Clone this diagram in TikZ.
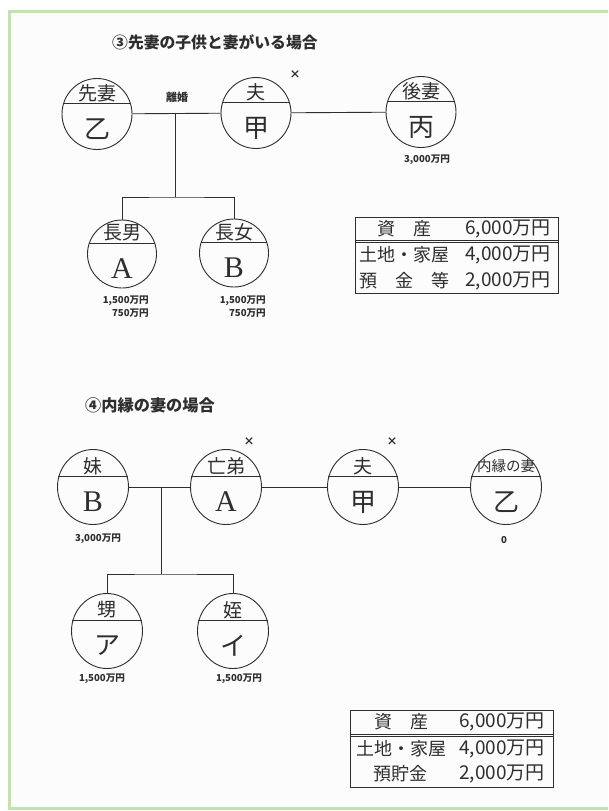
\documentclass[tikz,border=0pt]{standalone}
\usepackage{fontspec}
\newfontfamily\jp{Noto Sans CJK JP}
\newfontfamily\lser{Liberation Serif}
\usetikzlibrary{shapes.geometric,calc}
\definecolor{framegreen}{HTML}{C5E0B3}
\definecolor{ink}{HTML}{2E2E2E}
\definecolor{paper}{HTML}{FCFCFC}
\newcommand\famnode[7]{% name, position, size style, top text, top style, bottom text, bottom style
  \node[person,#3] (#1) at (#2) {};
  \draw[line] (#1.17) -- (#1.163);
  \node[#5] at ($(#1.center)+(0,-21)$) {#4};
  \node[#7] at ($(#1.center)+(0,15)$) {#6};
}
\begin{document}
\begin{tikzpicture}[x=1pt,y=-1pt,
  line/.style={draw=ink, line width=0.9pt},
  person/.style={ellipse, draw=ink, line width=0.9pt, inner sep=0pt},
  rowa/.style={minimum width=70pt, minimum height=71pt},
  rowb/.style={minimum width=69pt, minimum height=68pt},
  rowc/.style={minimum width=71pt, minimum height=75pt},
  toplab/.style={font=\jp\fontsize{19}{19}\selectfont, text=ink, inner sep=0pt},
  smalltop/.style={font=\jp\fontsize{14.5}{14.5}\selectfont, text=ink, inner sep=0pt},
  botlab/.style={font=\jp\fontsize{26}{26}\selectfont, text=ink, inner sep=0pt},
  latlab/.style={font=\lser\fontsize{30}{30}\selectfont, text=ink, inner sep=0pt},
  amount/.style={font=\jp\bfseries\fontsize{9.6}{10}\selectfont, text=ink, inner sep=0pt},
  title/.style={font=\jp\bfseries\fontsize{15.8}{16}\selectfont, text=ink, inner sep=0pt, anchor=west},
  cross/.style={font=\jp\bfseries\fontsize{11}{11}\selectfont, text=ink, inner sep=0pt},
  tablebox/.style={draw=ink, line width=0.9pt, inner sep=0pt},
  cell/.style={font=\jp\fontsize{18}{18}\selectfont, text=ink, inner sep=0pt},
  numcell/.style={font=\jp\fontsize{19}{19}\selectfont, text=ink, inner sep=0pt, anchor=east}
]
\clip (0,0) rectangle (608,811);
\fill[white] (0,0) rectangle (608,811);
\fill[paper] (9.5,11.5) rectangle (620,808);
\draw[framegreen, line width=3pt] (620,11.5) -- (9.5,11.5) -- (9.5,808) -- (620,808);

% ---------- Section 3 ----------
\node[title] (t3) at (112,42) {③先妻の子供と妻がいる場合};

\famnode{senzai}{97,114}{rowa}{先妻}{toplab}{乙}{botlab}
\famnode{otto}{256,113}{rowa}{夫}{toplab}{甲}{botlab}
\famnode{gosai}{421,112}{rowa}{後妻}{toplab}{丙}{botlab}
\famnode{chonan}{122,254}{rowb}{長男}{toplab}{A}{latlab}
\famnode{chojo}{234,253}{rowb}{長女}{toplab}{B}{latlab}

\draw[line] (senzai) -- (otto);
\draw[line] (otto) -- (gosai);
\coordinate (m3) at (175,113.5);
\coordinate (j3) at (175,197);
\draw[line] (m3) -- (j3);
\draw[line] (chonan.north) |- (j3) -| (chojo.north);

\node[font=\jp\bfseries\fontsize{11}{11}\selectfont, text=ink, inner sep=0pt] (rikon) at (177,97) {離婚};
\node[cross] (x1) at (295,75) {×};
\node[amount] (g-amt) at (427,160) {3,000万円};
\node[amount, anchor=east] (a-amt1) at (149,301) {1,500万円};
\node[amount, anchor=east] (a-amt2) at (149,313) {750万円};
\node[amount, anchor=east] (b-amt1) at (266,301) {1,500万円};
\node[amount, anchor=east] (b-amt2) at (266,313) {750万円};

% table 1
\node[tablebox, minimum width=203pt, minimum height=76pt] (tab1) at (456.5,255) {};
\draw[line, line width=0.7pt] (355,240) -- (558,240);
\draw[line, line width=0.7pt] (355,242.6) -- (558,242.6);
\node[cell] at (404,229) {資　産};
\node[cell] at (404,255) {土地・家屋};
\node[cell] at (404,281) {預　金　等};
\node[numcell] at (551,229) {6,000万円};
\node[numcell] at (551,255) {4,000万円};
\node[numcell] at (551,281) {2,000万円};

% ---------- Section 4 ----------
\node[title, font=\jp\bfseries\fontsize{16.2}{17}\selectfont] (t4) at (85,405) {④内縁の妻の場合};

\famnode{imoto}{93,487}{rowc}{妹}{toplab}{B}{latlab}
\famnode{otouto}{226,487}{rowc}{亡弟}{toplab}{A}{latlab}
\famnode{otto2}{363,487}{rowc}{夫}{toplab}{甲}{botlab}
\famnode{naien}{506,487}{rowc}{内縁の妻}{smalltop}{乙}{botlab}
\famnode{oi}{107,631}{rowc}{甥}{toplab}{ア}{botlab}
\famnode{mei}{233,631}{rowc}{姪}{toplab}{イ}{botlab}

\draw[line] (imoto) -- (otouto);
\draw[line] (otouto) -- (otto2);
\draw[line] (otto2) -- (naien);
\coordinate (m4) at (161,487);
\coordinate (j4) at (161,574);
\draw[line] (m4) -- (j4);
\draw[line] (oi.north) |- (j4) -| (mei.north);

\node[cross] (x2) at (249,442) {×};
\node[cross] (x3) at (392,442) {×};
\node[amount] (imo-amt) at (98,539) {3,000万円};
\node[amount] (nai-amt) at (504,540) {0};
\node[amount] (oi-amt) at (102,679) {1,500万円};
\node[amount] (mei-amt) at (239,679) {1,500万円};

% table 2
\node[tablebox, minimum width=203pt, minimum height=77pt] (tab2) at (451.5,748.5) {};
\draw[line, line width=0.7pt] (350,734) -- (553,734);
\draw[line, line width=0.7pt] (350,736.6) -- (553,736.6);
\node[cell] at (401,722) {資　産};
\node[cell] at (401,749) {土地・家屋};
\node[cell] at (400,774) {預貯金};
\node[numcell] at (545,722) {6,000万円};
\node[numcell] at (545,749) {4,000万円};
\node[numcell] at (545,774) {2,000万円};
\end{tikzpicture}
\end{document}
